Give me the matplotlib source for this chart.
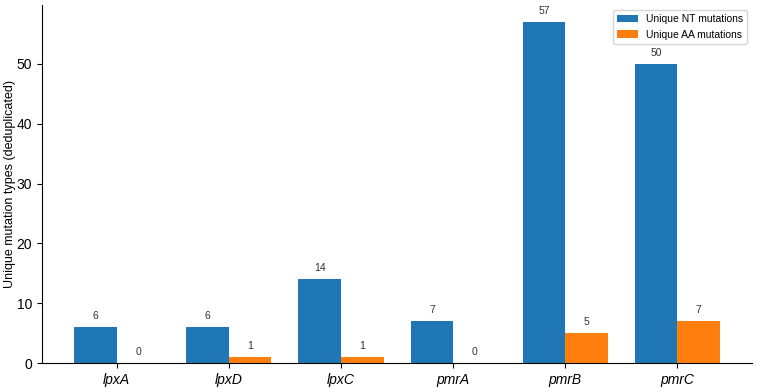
import matplotlib
matplotlib.use('Agg')
import matplotlib.pyplot as plt
import numpy as np

plt.rcParams['font.family'] = ['Liberation Sans', 'DejaVu Sans']

genes = ['lpxA', 'lpxD', 'lpxC', 'pmrA', 'pmrB', 'pmrC']
nt_counts = [6, 6, 14, 7, 57, 50]
aa_counts = [0, 1, 1, 0, 5, 7]

fig = plt.figure(figsize=(7.6, 3.88), dpi=100)
ax = fig.add_axes([0.055, 0.064, 0.935, 0.923])

x = np.arange(len(genes))
width = 0.38
b1 = ax.bar(x - width / 2, nt_counts, width, color='#1f77b4', label='Unique NT mutations')
b2 = ax.bar(x + width / 2, aa_counts, width, color='#ff7f0e', label='Unique AA mutations')

# value labels above each bar
for bars in (b1, b2):
    for rect in bars:
        h = rect.get_height()
        ax.annotate(f'{int(h)}', (rect.get_x() + rect.get_width() / 2, h),
                    xytext=(0, 4.5), textcoords='offset points',
                    ha='center', va='bottom', fontsize=7.5, color='#333333')

ax.set_xticks(x)
ax.set_xticklabels(genes, fontstyle='italic', fontsize=10)
ax.tick_params(axis='y', labelsize=10)
ax.set_ylabel('Unique mutation types (deduplicated)', fontsize=9)
ax.yaxis.set_label_coords(-0.037, 0.5)
ax.set_ylim(0, 59.85)
ax.spines['top'].set_visible(False)
ax.spines['right'].set_visible(False)
ax.legend(loc='upper right', fontsize=7.5)

fig.savefig('out.png', dpi=100)
